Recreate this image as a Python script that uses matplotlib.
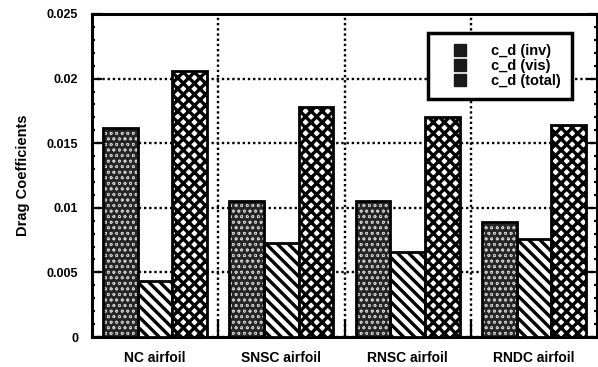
import matplotlib
matplotlib.use("Agg")
import matplotlib.pyplot as plt
import numpy as np
from matplotlib.ticker import MultipleLocator, FixedLocator
from matplotlib.legend_handler import HandlerPatch
from matplotlib.patches import Rectangle

plt.rcParams['font.family'] = ['Liberation Sans', 'DejaVu Sans']
plt.rcParams['font.weight'] = 'bold'
plt.rcParams['hatch.linewidth'] = 2.4

categories = ["NC airfoil", "SNSC airfoil", "RNSC airfoil", "RNDC airfoil"]
cd_inv = [0.0162, 0.0105, 0.0105, 0.0089]
cd_vis = [0.0043, 0.0073, 0.0066, 0.0076]
cd_total = [0.0206, 0.0178, 0.0170, 0.0164]
series_labels = ["c_d (inv)", "c_d (vis)", "c_d (total)"]
y_ticks = [0, 0.005, 0.01, 0.015, 0.02, 0.025]
y_tick_labels = ["0", "0.005", "0.01", "0.015", "0.02", "0.025"]

fig = plt.figure(figsize=(5.98, 3.67), dpi=100)
ax = fig.add_axes([92/598, 30/367, 505/598, 323/367])

x = np.arange(len(categories)) + 0.5
w = 0.275

# inviscid: dark fill with fine white dots
with plt.rc_context({'hatch.linewidth': 0.5}):
    ax.bar(x - w, cd_inv, w, color='#262626', edgecolor='#cfcfcf', hatch='ooo',
           linewidth=0, zorder=3)
ax.bar(x - w, cd_inv, w, fill=False, edgecolor='black', linewidth=2, zorder=4)
# viscous: diagonal stripes
ax.bar(x, cd_vis, w, color='white', edgecolor='black', hatch='\\\\\\',
       linewidth=2, zorder=3)
# total: dense crosshatch
ax.bar(x + w, cd_total, w, color='white', edgecolor='black', hatch='xxx',
       linewidth=2, zorder=3)

ax.set_xlim(0, 4)
ax.set_ylim(0, 0.025)

ax.set_yticks(y_ticks)
ax.set_yticklabels(y_tick_labels, fontsize=9, fontweight='bold')
ax.yaxis.set_minor_locator(MultipleLocator(0.001))
ax.tick_params(axis='y', which='major', direction='in', length=7, width=1.6,
               left=True, right=True, pad=10)
ax.tick_params(axis='y', which='minor', direction='in', length=2.5, width=1.6,
               left=True, right=True)

ax.xaxis.set_major_locator(FixedLocator([1, 2, 3]))
ax.xaxis.set_minor_locator(FixedLocator(list(x)))
ax.set_xticklabels([])
ax.set_xticklabels(categories, minor=True, fontsize=10, fontweight='bold')
ax.tick_params(axis='x', which='major', direction='in', length=13, width=1.6,
               bottom=True, top=False)
ax.tick_params(axis='x', which='minor', length=0, pad=10)

ax.grid(True, which='major', axis='both', linestyle=(0, (1, 1.2)),
        linewidth=1.7, color='black', zorder=0)
ax.set_axisbelow(True)

for s in ax.spines.values():
    s.set_linewidth(2.2)

ax.set_ylabel("Drag Coefficients", fontsize=10.5, fontweight='bold', labelpad=12)


def square_swatch(legend, orig_handle, xdescent, ydescent, width, height, fontsize):
    # small solid square at the right end of the handle box
    side = height * 1.1
    return Rectangle((-xdescent + width - side, -ydescent - 0.05 * height),
                     side, side)


# legend keys: solid dark squares
keys = [Rectangle((0, 0), 1, 1, facecolor='#1a1a1a', edgecolor='#1a1a1a')
        for _ in series_labels]
leg = ax.legend(keys, series_labels, loc='upper right',
                bbox_to_anchor=(0.95, 0.94), fontsize=10.5, frameon=True,
                fancybox=False, framealpha=1, handlelength=1.9,
                handleheight=0.8, handletextpad=1.7, labelspacing=0.05,
                borderpad=0.75, borderaxespad=0,
                handler_map={Rectangle: HandlerPatch(patch_func=square_swatch)})
leg.get_frame().set_edgecolor('black')
leg.get_frame().set_linewidth(2.5)

fig.savefig("out.png", dpi=100)
